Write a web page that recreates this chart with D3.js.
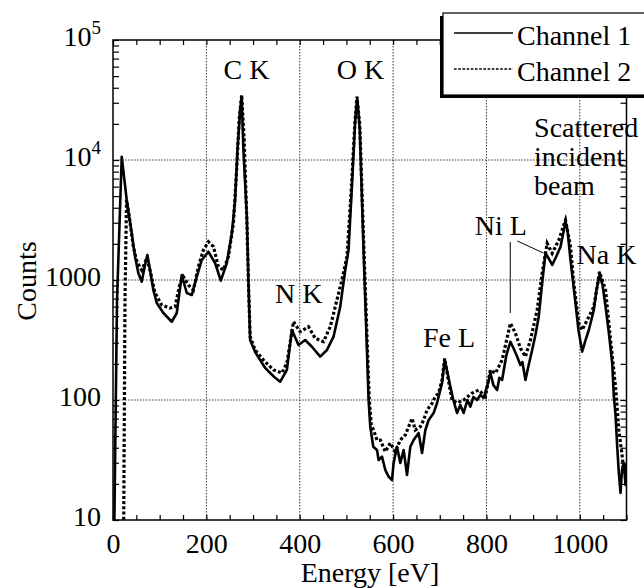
<html>
<script src="https://cdnjs.cloudflare.com/ajax/libs/d3/7.8.5/d3.min.js"></script>
<style>
body { margin: 0; background: #fff; }
text { font-family: "Liberation Serif", "Times New Roman", serif; fill: #000; }
.grid line { stroke: #333; stroke-width: 1; stroke-dasharray: 1.5,1.5; }
.tick line { stroke: #000; stroke-width: 1.2; }
</style>
<body>
<svg width="644" height="588"></svg>
<script>
// energy (eV) and counts
const ch1E = [2, 8.6, 18.7, 29.4, 40.1, 47.2, 54.3, 61.5, 68.6, 73.6, 79.3, 86.4, 93.7, 107.9, 125.9, 136.6, 147.3, 158, 168.8, 179.5,
  190.2, 204.4, 218.7, 231, 243.8, 254.6, 261.6, 266.6, 272.4, 275.6, 279.4, 286.7, 290.2, 293.8, 304.5, 315.3, 326, 336.7, 347.4, 358.2,
  372.5, 383.2, 397.4, 411.7, 426.1, 443.9, 458.3, 472.4, 486.8, 497.5, 504.6, 512.5, 518.9, 523.2, 528.6, 536.7, 544, 547.5, 551.1, 557.5,
  565.5, 569, 576.2, 583.3, 590.4, 597.7, 601.1, 608.4, 615.5, 622.6, 629.8, 636.9, 644, 654.7, 662, 669.1, 676.2, 686.9, 694.2, 704.9,
  710.5, 716.3, 722.7, 729.1, 737, 744.1, 751.2, 759.1, 765.6, 772, 779.9, 787, 794.1, 802, 808.4, 814.9, 822.8, 827.7, 833.5, 842.7,
  851.3, 857.7, 865.7, 872.7, 877, 883.5, 890.5, 897.9, 904.9, 912, 917.8, 926.4, 932.8, 940.8, 950, 958.6, 965, 969.3, 973.6, 980,
  990.7, 997.1, 1005, 1012.2, 1019.3, 1030, 1035.8, 1042.3, 1048.7, 1055.1, 1061.5, 1069.4, 1072.9, 1076.5, 1080.1, 1083.6, 1087.2, 1090.4, 1094.3, 1097.9,
  1100];
const ch1C = [5, 680, 10650, 4640, 2460, 1565, 1143, 968, 1334, 1616, 1211, 825, 643, 531, 449, 531, 1101, 779, 750, 1066,
  1468, 1720, 1386, 987, 1386, 2460, 4640, 12100, 26100, 33500, 12100, 3370, 944, 316, 251, 215, 185, 168, 153, 142,
  178, 383, 287, 316, 278, 230, 261, 337, 600, 1211, 1778, 6810, 21500, 32800, 17800, 1778, 261, 100, 60, 40.8,
  38.3, 31.6, 33.7, 26.1, 23, 21.5, 29.9, 40.8, 29.9, 38.3, 23.7, 40.8, 46.4, 53.1, 36.2, 56.2, 68.1, 78, 94.4, 139,
  215, 171, 129, 100, 78, 90.9, 78, 100, 88, 106, 100, 110, 104, 133, 168, 133, 121, 153, 147, 237,
  306, 271, 230, 196, 207, 147, 196, 261, 348, 495, 825, 1679, 1526, 1334, 1585, 1896, 2512, 3060, 2610, 1468,
  643, 383, 253, 316, 383, 562, 825, 1101, 908, 600, 383, 203, 107, 75, 40.8, 24.6, 16.8, 26.1, 29.9, 19.6,
  26];

const ch2E = [22.5, 25.7, 29, 34.3, 43.5, 51.5, 61.5, 66.5, 72.3, 79.3, 90.1, 104.4, 122.2, 133, 143.7, 150.8, 161.5, 172.2, 182.9, 193.6,
  204.4, 215.1, 225.8, 236.5, 247.3, 258, 264.8, 270.2, 275.6, 281, 286.7, 290.6, 293.8, 304.5, 322.3, 343.8, 361.8, 372.5, 386.6, 401,
  418.8, 433.2, 451, 465.4, 479.7, 490.4, 501.2, 510.4, 517.9, 522.6, 528.6, 537.2, 544.7, 549, 553.3, 558.2, 565.5, 572.6, 583.3, 594,
  604.7, 615.5, 626.2, 640.6, 647.6, 658.4, 665.4, 672.7, 683.4, 690.5, 697.6, 704.9, 710.5, 716.3, 726.4, 737, 751.2, 769.2, 783.4, 797.8,
  808.4, 819.1, 833.5, 851.3, 862.1, 872.8, 883.5, 894.2, 908.6, 919.3, 930.1, 940.8, 955, 969.3, 980, 987.1, 997.8, 1005, 1015.8, 1030,
  1042.3, 1055.1, 1065.8, 1076.5, 1083.6, 1090.9, 1094.3, 1097.9, 1100];
const ch2C = [5, 680, 4640, 3480, 1896, 1413, 1211, 1334, 1526, 1211, 779, 619, 584, 600, 944, 1066, 908, 825, 1291, 1778,
  2083, 1896, 1291, 1211, 1565, 2985, 8250, 21500, 34800, 14700, 3160, 825, 337, 261, 215, 178, 168, 203, 449, 371,
  408, 327, 306, 408, 681, 1000, 1565, 5620, 19600, 33700, 19600, 1958, 287, 100, 62, 56.2, 46.4, 46.4, 37.1, 43.8,
  37.1, 46.4, 51.1, 70.3, 56.2, 60, 68.1, 82.5, 93.8, 107, 114, 147, 222, 162, 100, 94.4, 100, 114, 121, 107,
  178, 167, 215, 436, 360, 270, 230, 316, 562, 1137, 2023, 1668, 2154, 3162, 1896, 938, 436, 383, 464, 600,
  1172, 825, 316, 129, 56, 33.7, 24.6, 29.9, 26.1];

const xTicks = [0, 200, 400, 600, 800, 1000];
const yTicks = [10, 100, 1000, 1e4, 1e5];
const yTickBase = ["10", "100", "1000", "10", "10"];
const yTickSup = ["", "", "", "4", "5"];
const seriesNames = ["Channel 1", "Channel 2"];

// peak labels: [text, energy, counts at baseline]
const peakLabels = [
  ["C K", 286, 47000], ["O K", 530, 47000], ["N K", 398, 643],
  ["Fe L", 720, 274], ["Ni L", 831, 2371], ["Na K", 1057, 1359]
];
const beamLines = ["Scattered", "incident", "beam"];
const beamCounts = [15550, 8913, 5109];
// Ni L pointer lines: [E1, c1, E2, c2]
const pointers = [[851, 2073, 851, 531], [866, 2113, 922, 1679]];

const svg = d3.select("svg");
const x = d3.scaleLinear().domain([0, 1100]).range([113, 626.5]);
const y = d3.scaleLog().domain([10, 1e5]).range([520, 40]);

svg.append("clipPath").attr("id", "clip").append("rect")
  .attr("x", 113).attr("y", 40).attr("width", 513.5).attr("height", 480);

// grid
const grid = svg.append("g").attr("class", "grid");
grid.selectAll(".gx").data(xTicks.slice(1)).enter().append("line")
  .attr("x1", d => x(d)).attr("x2", d => x(d)).attr("y1", 40).attr("y2", 520);
grid.selectAll(".gy").data([100, 1000, 1e4]).enter().append("line")
  .attr("y1", d => y(d)).attr("y2", d => y(d)).attr("x1", 113).attr("x2", 626.5);

// curves
const line = d3.line().x(d => x(d[0])).y(d => y(d[1]));
const plot = svg.append("g").attr("clip-path", "url(#clip)");
plot.append("path").datum(d3.zip(ch1E, ch1C)).attr("d", line)
  .attr("fill", "none").attr("stroke", "#000").attr("stroke-width", 2.6).attr("stroke-linejoin", "round");
plot.append("path").datum(d3.zip(ch2E, ch2C)).attr("d", line)
  .attr("fill", "none").attr("stroke", "#000").attr("stroke-width", 3.2).attr("stroke-dasharray", "3,2.2");

// axes (ticks inside)
const xMinor = d3.range(0, 1101, 50);
const yMinor = [];
for (let k = 1; k < 5; k++) for (let m = 1; m < 10; m++) yMinor.push(m * Math.pow(10, k));
yMinor.push(1e5);

const bottom = svg.append("g").attr("transform", "translate(0,520)")
  .call(d3.axisBottom(x).tickValues(xMinor).tickSize(-5).tickPadding(13)
    .tickFormat(d => xTicks.includes(d) ? d : ""));
svg.append("g").attr("transform", "translate(0,40)")
  .call(d3.axisTop(x).tickValues(xMinor).tickSize(-5).tickFormat(""));
svg.append("g").attr("transform", "translate(113,0)")
  .call(d3.axisLeft(y).tickValues(yMinor).tickSize(-6).tickFormat(""));
svg.append("g").attr("transform", "translate(626.5,0)")
  .call(d3.axisRight(y).tickValues(yMinor).tickSize(-6).tickFormat(""));
svg.selectAll(".domain").remove();
bottom.selectAll("text").attr("font-size", 28).attr("font-family", "Liberation Serif");

svg.append("rect").attr("x", 113).attr("y", 40).attr("width", 513.5).attr("height", 480)
  .attr("fill", "none").attr("stroke", "#000").attr("stroke-width", 1.5);

// y tick labels
const yl = svg.append("g").selectAll("text").data(yTicks).enter().append("text")
  .attr("x", 101).attr("y", d => y(d) + 6).attr("text-anchor", "end").attr("font-size", 28);
yl.append("tspan").text((d, i) => yTickBase[i]);
yl.append("tspan").attr("font-size", 19).attr("dy", -12).text((d, i) => yTickSup[i]);

// axis titles
svg.append("text").attr("x", 370).attr("y", 582).attr("text-anchor", "middle")
  .attr("font-size", 28).text("Energy [eV]");
svg.append("text").attr("transform", "translate(36,281) rotate(-90)").attr("text-anchor", "middle")
  .attr("font-size", 28).text("Counts");

// annotations
svg.append("g").selectAll("text").data(peakLabels).enter().append("text")
  .attr("x", d => x(d[1])).attr("y", d => y(d[2])).attr("text-anchor", "middle")
  .attr("font-size", 28).text(d => d[0]);
svg.append("g").selectAll("text").data(beamLines).enter().append("text")
  .attr("x", x(902)).attr("y", (d, i) => y(beamCounts[i])).attr("font-size", 28).text(d => d);
svg.append("g").selectAll("line").data(pointers).enter().append("line")
  .attr("x1", d => x(d[0])).attr("y1", d => y(d[1])).attr("x2", d => x(d[2])).attr("y2", d => y(d[3]))
  .attr("stroke", "#000").attr("stroke-width", 1);

// legend
const lg = svg.append("g");
lg.append("rect").attr("x", 440).attr("y", 16).attr("width", 220).attr("height", 82).attr("fill", "#000");
lg.append("rect").attr("x", 443).attr("y", 13).attr("width", 220).attr("height", 82)
  .attr("fill", "#fff").attr("stroke", "#000").attr("stroke-width", 1.2);
seriesNames.forEach((name, i) => {
  const ly = 33 + i * 36;
  lg.append("line").attr("x1", 454).attr("x2", 513).attr("y1", ly).attr("y2", ly)
    .attr("stroke", "#000").attr("stroke-width", 1.4)
    .attr("stroke-dasharray", i ? "2.6,1.6" : null);
  lg.append("text").attr("x", 517).attr("y", ly + 12).attr("font-size", 28).text(name);
});
</script>
</body>
</html>
